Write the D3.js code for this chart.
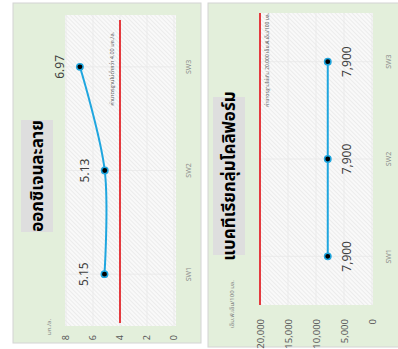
<!DOCTYPE html>
<html><head><meta charset="utf-8">
<script src="https://cdn.jsdelivr.net/npm/d3@7"></script>
<style>body{margin:0;background:#fff}svg{display:block}</style>
</head><body><svg id="c" width="398" height="349"></svg>
<script>
const categories = ["SW1", "SW2", "SW3"];
const doValues = [5.15, 5.13, 6.97];
const doTicks = [0, 2, 4, 6, 8];
const doStandard = 4;
const coliValues = [7900, 7900, 7900];
const coliTicks = [0, 5000, 10000, 15000, 20000];
const coliStandard = 20000;
const doTitle = "ออกซิเจนละลาย";
const coliTitle = "แบคทีเรียกลุ่มโคลิฟอร์ม";
const doUnit = "มก./ล.";
const coliUnit = "เอ็ม.พี.เอ็น/100 มล.";
const doStdLabel = "ค่ามาตรฐานไม่ต่ำกว่า 4.00 มก./ล.";
const coliStdLabel = "ค่ามาตรฐานไม่เกิน 20,000 เอ็ม.พี.เอ็น/100 มล.";

const FONT = "'Noto Sans Thai','Tahoma','Leelawadee UI','Noto Sans','DejaVu Sans',sans-serif";
const svg = d3.select("#c");
const defs = svg.append("defs");
const pat = defs.append("pattern").attr("id", "hatch").attr("patternUnits", "userSpaceOnUse")
  .attr("width", 3).attr("height", 3).attr("patternTransform", "rotate(45)");
pat.append("rect").attr("width", 3).attr("height", 3).attr("fill", "#f9f9f9");
pat.append("line").attr("x1", 0).attr("y1", 0).attr("x2", 0).attr("y2", 3)
  .attr("stroke", "#e0e0e0").attr("stroke-width", 1);

// whole chart drawn in an upright frame (349 wide x 398 tall) then rotated
const root = svg.append("g").attr("transform", "translate(0,349) rotate(-90)");

function drawPanel(cfg) {
  const g = root.append("g");
  g.append("rect").attr("x", cfg.bg[0]).attr("y", cfg.bg[1])
    .attr("width", cfg.bg[2] - cfg.bg[0]).attr("height", cfg.bg[3] - cfg.bg[1])
    .attr("fill", "#e3efdb").attr("stroke", "#d4d4d4").attr("stroke-width", 1);
  const x = d3.scaleBand().domain(categories).range([cfg.plot[0], cfg.plot[2]]);
  const y = d3.scaleLinear().domain([cfg.ticks[0], cfg.ticks[cfg.ticks.length - 1]]).range(cfg.yRange);
  g.append("rect").attr("x", cfg.plot[0]).attr("y", cfg.plot[1])
    .attr("width", cfg.plot[2] - cfg.plot[0]).attr("height", cfg.plot[3] - cfg.plot[1])
    .attr("fill", "url(#hatch)");
  // gridlines
  g.append("g").selectAll("line").data(cfg.ticks).join("line")
    .attr("x1", cfg.plot[0]).attr("x2", cfg.plot[2])
    .attr("y1", d => y(d)).attr("y2", d => y(d))
    .attr("stroke", "#e8e8e8").attr("stroke-width", 0.8);
  g.append("g").selectAll("line").data(categories).join("line")
    .attr("x1", d => x(d) + x.bandwidth() / 2).attr("x2", d => x(d) + x.bandwidth() / 2)
    .attr("y1", cfg.plot[1]).attr("y2", cfg.plot[3])
    .attr("stroke", "#e8e8e8").attr("stroke-width", 0.8);
  // value axis
  const ay = g.append("g").attr("transform", `translate(${cfg.labelEnd + 3},0)`)
    .call(d3.axisLeft(y).tickValues(cfg.ticks).tickSize(0).tickPadding(3).tickFormat(d3.format(",")));
  ay.select(".domain").remove();
  ay.selectAll("text").attr("font-family", FONT).attr("font-size", cfg.tickFont).attr("fill", "#595959");
  // category axis
  const ax = g.append("g").attr("transform", `translate(0,${cfg.catY})`)
    .call(d3.axisBottom(x).tickSize(0).tickPadding(0));
  ax.select(".domain").remove();
  ax.selectAll("text").attr("font-family", FONT).attr("font-size", 7).attr("fill", "#8c8c8c");
  // unit label
  g.append("text").attr("x", cfg.unitPos[0]).attr("y", cfg.unitPos[1])
    .attr("font-family", FONT).attr("font-size", 6).attr("fill", "#7f7f7f").text(cfg.unit);
  // standard line
  g.append("line").attr("x1", cfg.plot[0] + cfg.stdInset[0]).attr("x2", cfg.plot[2] - cfg.stdInset[1])
    .attr("y1", y(cfg.std)).attr("y2", y(cfg.std))
    .attr("stroke", "#e3262b").attr("stroke-width", 1.8);
  g.append("text").attr("x", cfg.stdLabelPos[0]).attr("y", cfg.stdLabelPos[1])
    .attr("text-anchor", "end").attr("font-family", FONT).attr("font-size", cfg.stdFont)
    .attr("fill", "#595959").text(cfg.stdLabel);
  // series
  const pts = categories.map((c, i) => ({ c, v: cfg.values[i] }));
  g.append("path").datum(pts)
    .attr("d", d3.line().x(d => x(d.c) + x.bandwidth() / 2).y(d => y(d.v)).curve(d3.curveCatmullRom.alpha(0.5)))
    .attr("fill", "none").attr("stroke", "#1fa6df").attr("stroke-width", 2);
  g.append("g").selectAll("circle").data(pts).join("circle")
    .attr("cx", d => x(d.c) + x.bandwidth() / 2).attr("cy", d => y(d.v)).attr("r", 3.2)
    .attr("fill", "#000").attr("stroke", "#1fa6df").attr("stroke-width", 1.5);
  g.append("g").selectAll("text").data(pts).join("text")
    .attr("x", d => x(d.c) + x.bandwidth() / 2).attr("y", d => y(d.v) + cfg.labelDy)
    .attr("text-anchor", "middle").attr("font-family", FONT).attr("font-size", 12)
    .attr("fill", "#404040").text(d => cfg.fmt(d.v));
  // title
  g.append("rect").attr("x", cfg.titleBox[0]).attr("y", cfg.titleBox[1])
    .attr("width", cfg.titleBox[2] - cfg.titleBox[0]).attr("height", cfg.titleBox[3] - cfg.titleBox[1])
    .attr("fill", "#dedede");
  g.append("text").attr("x", (cfg.titleBox[0] + cfg.titleBox[2]) / 2).attr("y", (cfg.titleBox[1] + cfg.titleBox[3]) / 2 + 6)
    .attr("text-anchor", "middle").attr("font-family", FONT).attr("font-size", 17).attr("font-weight", "bold")
    .attr("fill", "#000").text(cfg.title);
}

drawPanel({
  bg: [6, 13, 346, 201], plot: [23, 65, 334, 176], yRange: [174, 66],
  ticks: doTicks, values: doValues, std: doStandard, labelEnd: 14, catY: 186, tickFont: 9,
  unit: doUnit, unitPos: [14, 51], stdInset: [3, 5],
  stdLabel: doStdLabel, stdLabelPos: [317, 114], stdFont: 5.5,
  labelDy: -16, fmt: d3.format(".2f"),
  titleBox: [117, 21, 229, 53], title: doTitle
});
drawPanel({
  bg: [2, 208, 346, 402], plot: [44, 259, 336, 373], yRange: [372, 260],
  ticks: coliTicks, values: coliValues, std: coliStandard, labelEnd: 30, catY: 386, tickFont: 9.5,
  unit: coliUnit, unitPos: [21, 234], stdInset: [0, 0],
  stdLabel: coliStdLabel, stdLabelPos: [336, 269], stdFont: 5,
  labelDy: 23, fmt: d3.format(","),
  titleBox: [94, 213, 252, 245], title: coliTitle
});
</script></body></html>
